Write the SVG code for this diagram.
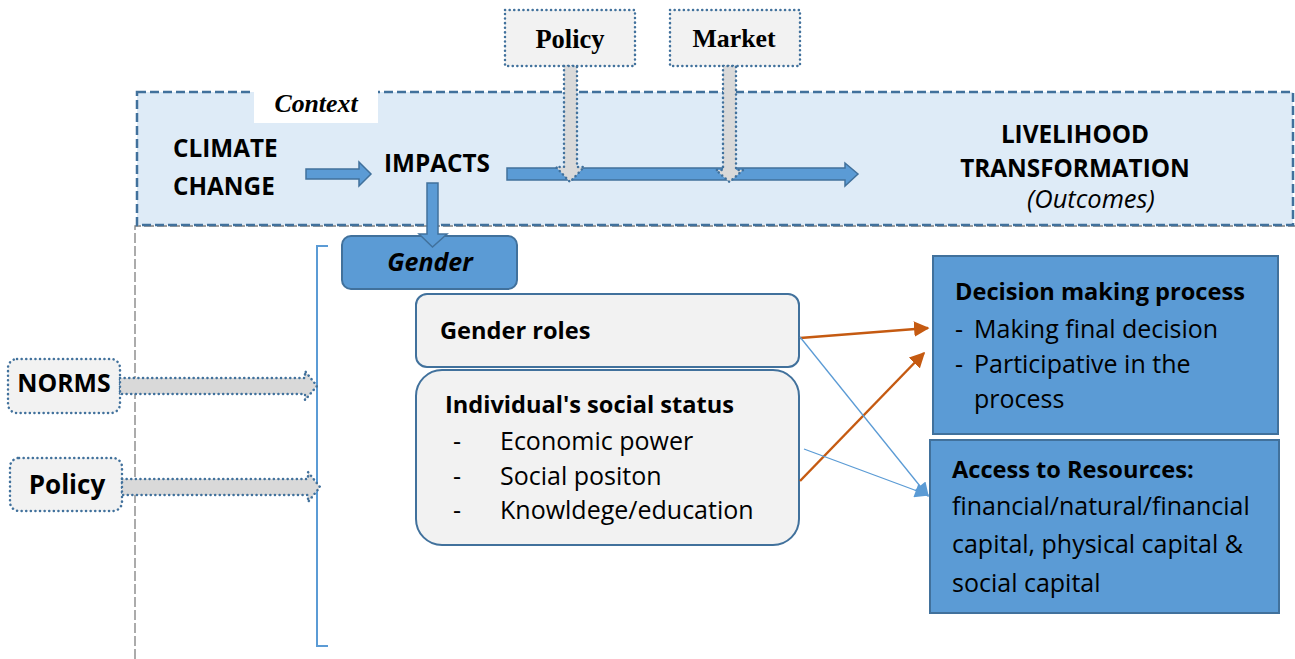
<svg xmlns="http://www.w3.org/2000/svg" width="1295" height="659" viewBox="0 0 1295 659">
  <style>
    .sans { font-family: "Open Sans", "Liberation Sans", sans-serif; fill: #000; }
    .serif { font-family: "Liberation Serif", "DejaVu Serif", serif; fill: #000; font-weight: bold; }
    .b { font-weight: bold; }
    .cap { font-size: 24.3px; font-weight: bold; }
    .head { font-size: 23.6px; font-weight: bold; }
    .body { font-size: 25px; }
    .blockArrow { fill: #5B9BD5; stroke: #41719C; stroke-width: 1.5; }
    .greyArrow { fill: #D9D9D9; stroke: #41719C; stroke-width: 2.5; stroke-dasharray: 0.1 4.5; stroke-linecap: round; }
    .dotBox { fill: #F2F2F2; stroke: #41719C; stroke-width: 2.5; stroke-dasharray: 0.1 4.5; stroke-linecap: round; }
    .softBox { fill: #F2F2F2; stroke: #41719C; stroke-width: 2; }
    .blueBox { fill: #5B9BD5; stroke: #41719C; stroke-width: 2; }
    .orange { stroke: #C55A11; stroke-width: 2.5; fill: none; }
    .thin { stroke: #5B9BD5; stroke-width: 1.3; fill: none; }
  </style>
  <defs>
    <marker id="headOrange" viewBox="0 0 10 10" refX="9" refY="5" markerWidth="6.2" markerHeight="6.2" markerUnits="strokeWidth" orient="auto">
      <path d="M0,0 L10,5 L0,10 Z" fill="#C55A11"/>
    </marker>
    <marker id="headBlue" viewBox="0 0 10 10" refX="9" refY="5" markerWidth="13" markerHeight="11" markerUnits="strokeWidth" orient="auto">
      <path d="M0,0 L10,5 L0,10 Z" fill="#5B9BD5"/>
    </marker>
  </defs>

  <rect width="1295" height="659" fill="#FFFFFF"/>

  <!-- outer grey frame of the lower area -->
  <g id="frame">
    <path d="M135,659 L135,226 L1295,226" fill="none" stroke="#7F7F7F" stroke-width="1.3" stroke-dasharray="10 3"/>
  </g>

  <!-- context band -->
  <g id="context">
    <rect x="137" y="92" width="1156" height="133" fill="#DEEBF7" stroke="#41719C" stroke-width="2.5" stroke-dasharray="9 4"/>
    <rect x="254" y="90" width="124" height="33" fill="#FFFFFF"/>
    <text x="316" y="112" class="serif" font-size="25.8" font-style="italic" text-anchor="middle">Context</text>
  </g>

  <g id="climate-change">
    <text x="173" y="157" class="sans cap">CLIMATE</text>
    <text x="173" y="195" class="sans cap">CHANGE</text>
  </g>

  <g id="impacts">
    <text x="384" y="172" class="sans cap">IMPACTS</text>
  </g>

  <g id="livelihood">
    <text x="1075" y="143" class="sans cap" text-anchor="middle">LIVELIHOOD</text>
    <text x="1075" y="177" class="sans cap" text-anchor="middle">TRANSFORMATION</text>
    <text x="1027" y="208" class="sans" font-size="25.5" font-style="italic">(Outcomes)</text>
  </g>

  <g id="policy-top">
    <rect x="505" y="10" width="130" height="56" class="dotBox"/>
    <text x="570" y="48" class="serif" font-size="26.5" text-anchor="middle">Policy</text>
  </g>

  <g id="market-top">
    <rect x="670" y="10" width="130" height="56" class="dotBox"/>
    <text x="734" y="47" class="serif" font-size="25.8" text-anchor="middle">Market</text>
  </g>

  <g id="gender">
    <rect x="342" y="236" width="175" height="53" rx="9" class="blueBox"/>
    <text x="430" y="271" class="sans b" font-size="25" font-style="italic" text-anchor="middle">Gender</text>
  </g>

  <g id="bracket">
    <path d="M328,246 L317,246 L317,646 L328,646" fill="none" stroke="#5B9BD5" stroke-width="2"/>
  </g>

  <g id="norms">
    <rect x="8" y="359" width="112" height="54" rx="9" class="dotBox"/>
    <text x="64" y="392" class="sans b" font-size="24.8" text-anchor="middle">NORMS</text>
  </g>

  <g id="policy-left">
    <rect x="10" y="458" width="112" height="53" rx="9" class="dotBox"/>
    <text x="67" y="494" class="sans b" font-size="26" text-anchor="middle">Policy</text>
  </g>

  <g id="gender-roles">
    <rect x="416" y="294" width="383" height="73" rx="11" class="softBox"/>
    <text x="440" y="339" class="sans head">Gender roles</text>
  </g>

  <g id="social-status">
    <rect x="416" y="370" width="383" height="175" rx="26" class="softBox"/>
    <text x="445" y="413" class="sans head">Individual's social status</text>
    <text x="453" y="450" class="sans body">-</text>
    <text x="500" y="450" class="sans body">Economic power</text>
    <text x="453" y="485" class="sans body">-</text>
    <text x="500" y="485" class="sans body">Social positon</text>
    <text x="453" y="519" class="sans body">-</text>
    <text x="500" y="519" class="sans body">Knowldege/education</text>
  </g>

  <g id="decision-making">
    <rect x="933" y="256" width="345" height="178" class="blueBox"/>
    <text x="955" y="300" class="sans head">Decision making process</text>
    <text x="955" y="338" class="sans body">-</text>
    <text x="974" y="338" class="sans body">Making final decision</text>
    <text x="955" y="373" class="sans body">-</text>
    <text x="974" y="373" class="sans body">Participative in the</text>
    <text x="974" y="408" class="sans body">process</text>
  </g>

  <g id="resources">
    <rect x="930" y="440" width="349" height="173" class="blueBox"/>
    <text x="952" y="478" class="sans head">Access to Resources:</text>
    <text x="952" y="515" class="sans body">financial/natural/financial</text>
    <text x="952" y="553" class="sans body">capital, physical capital &amp;</text>
    <text x="952" y="592" class="sans body">social capital</text>
  </g>

  <!-- connectors -->
  <g id="connectors">
    <!-- climate change to impacts -->
    <path class="blockArrow" d="M306,169 L359,169 L359,162 L371,174 L359,186 L359,179 L306,179 Z"/>
    <!-- impacts to livelihood transformation -->
    <path class="blockArrow" d="M507,168 L845,168 L845,163 L858,174 L845,186 L845,180 L507,180 Z"/>
    <!-- impacts down to gender -->
    <path class="blockArrow" d="M427,183 L438,183 L438,234 L447,234 L432.5,247 L419,234 L427,234 Z"/>
    <!-- policy and market pressing on the pathway -->
    <path class="greyArrow" d="M564,66 L577,66 L577,167 L584,167 L570,182 L556,167 L564,167 Z"/>
    <path class="greyArrow" d="M723,66 L736,66 L736,170 L743,170 L729.5,182 L716,170 L723,170 Z"/>
    <!-- norms and policy into gender -->
    <path class="greyArrow" d="M120,378 L305,378 L305,371 L317,386 L305,400 L305,394 L120,394 Z"/>
    <path class="greyArrow" d="M122,479 L308,479 L308,472 L320,487 L308,502 L308,495 L122,495 Z"/>
    <!-- gender factors to outcomes -->
    <line class="orange" x1="800" y1="338" x2="928" y2="328" marker-end="url(#headOrange)"/>
    <line class="orange" x1="800" y1="481" x2="924" y2="353" marker-end="url(#headOrange)"/>
    <line class="thin" x1="800" y1="337" x2="928" y2="496" marker-end="url(#headBlue)"/>
    <line class="thin" x1="804" y1="449" x2="928" y2="495" marker-end="url(#headBlue)"/>
  </g>
</svg>
